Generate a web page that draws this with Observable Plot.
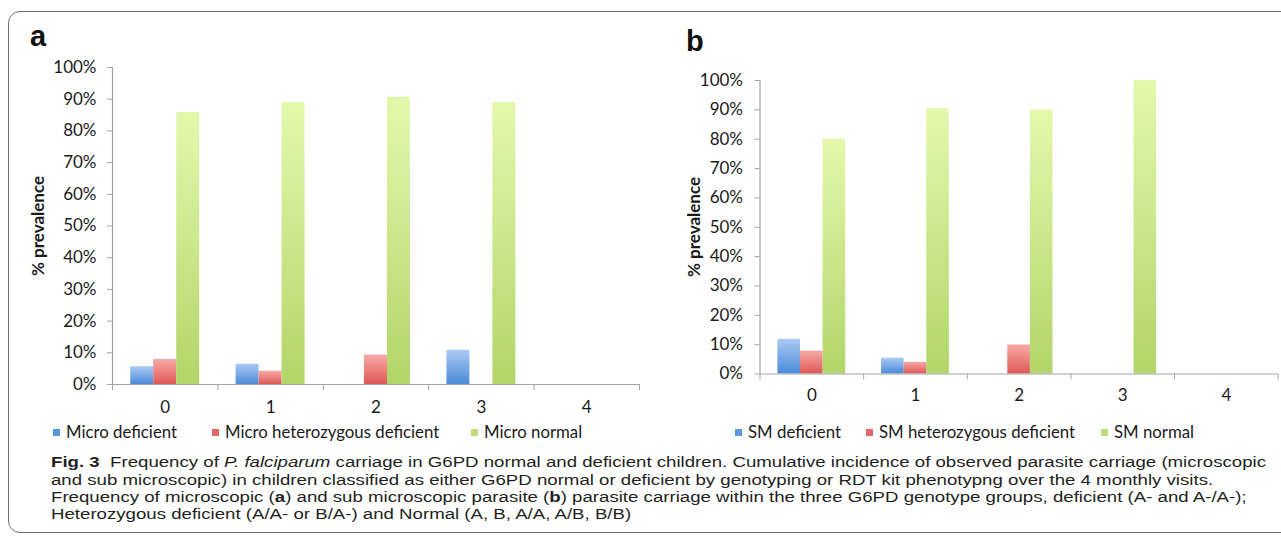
<!DOCTYPE html>
<html>
<head>
<meta charset="utf-8">
<script src="https://cdn.jsdelivr.net/npm/d3@7"></script>
<script src="https://cdn.jsdelivr.net/npm/@observablehq/plot@0.6"></script>
<style>
html, body { margin: 0; padding: 0; background: #fff; }
#page { position: relative; width: 1281px; height: 559px; overflow: hidden; background: #fff; font-family: Lato, "Open Sans", sans-serif; color: #1a1a1a; }
#frame { position: absolute; left: 8px; top: 11px; width: 1320px; height: 522px; border: 1.5px solid #6f6f6f; border-radius: 12px; box-sizing: border-box; }
.panel { position: absolute; top: 0; }
.plabel { position: absolute; font-family: "Liberation Sans", Arial, sans-serif; font-weight: bold; font-size: 29px; line-height: 1; color: #111; }
.ylab { position: absolute; font-weight: bold; font-size: 17px; transform: translate(-50%, -50%) rotate(-90deg); white-space: nowrap; color: #1a1a1a; }
.leg { position: absolute; font-size: 16.8px; white-space: nowrap; line-height: 18px; height: 18px; color: #1a1a1a; }
.leg .sw { position: absolute; left: 0; top: 5.5px; width: 7px; height: 7px; }
.leg .tx { position: absolute; left: 13px; top: 0; }
#caption { position: absolute; left: 51px; top: 453.4px; font-family: "Liberation Sans Narrow", "Liberation Sans", Arial, sans-serif; font-size: 15.4px; line-height: 17.2px; color: #231f20; transform-origin: 0 0; }
#caption .ln { white-space: nowrap; height: 17.2px; }
#caption .ln span { display: inline-block; }
</style>
</head>
<body>
<div id="page">
  <div id="frame"></div>
  <div class="plabel" style="left:30px; top:22px;">a</div>
  <div class="plabel" style="left:686px; top:27px;">b</div>
  <div id="panelA" class="panel" style="left:0px;"></div>
  <div id="panelB" class="panel" style="left:640px;"></div>
  <div class="ylab" style="left:37px; top:226px;">% prevalence</div>
  <div class="ylab" style="left:693px; top:227px;">% prevalence</div>
  <div id="legendA"></div>
  <div id="legendB"></div>
  <div id="caption">
    <div class="ln"><span id="cap1"><b>Fig. 3</b>&nbsp; Frequency of <i>P. falciparum</i> carriage in G6PD normal and deficient children. Cumulative incidence of observed parasite carriage (microscopic</span></div>
    <div class="ln"><span>and sub microscopic) in children classified as either G6PD normal or deficient by genotyping or RDT kit phenotypng over the 4 monthly visits.</span></div>
    <div class="ln"><span>Frequency of microscopic (<b>a</b>) and sub microscopic parasite (<b>b</b>) parasite carriage within the three G6PD genotype groups, deficient (A- and A-/A-);</span></div>
    <div class="ln"><span>Heterozygous deficient (A/A- or B/A-) and Normal (A, B, A/A, A/B, B/B)</span></div>
  </div>
</div>
<script>
// ---- data ----
const categories = ["0", "1", "2", "3", "4"];
const seriesA = ["Micro deficient", "Micro heterozygous deficient", "Micro normal"];
const seriesB = ["SM deficient", "SM heterozygous deficient", "SM normal"];
const microDeficient    = [5.6, 6.4, 0, 10.8, 0];
const microHetDeficient = [7.9, 4.2, 9.3, 0, 0];
const microNormal       = [85.8, 89.0, 90.6, 89.0, 0];
const smDeficient       = [11.8, 5.4, 0, 0, 0];
const smHetDeficient    = [7.8, 4.0, 9.9, 0, 0];
const smNormal          = [80.1, 90.4, 90.0, 100, 0];
const yTicks = [0, 10, 20, 30, 40, 50, 60, 70, 80, 90, 100];

// ---- styles ----
const gradients = [["#abcaf4", "#4a8ad9"], ["#f7aaa8", "#df5855"], ["#e4f8ac", "#b1d568"]];
const legendColors = ["#5b97df", "#e6676a", "#bcdc7c"];
const axisGray = "#a3a3a3";
const barFrac = 0.218;
const groupPad = (1 - 3 * barFrac) / 2;

function makePanel(id, seriesValues, layout) {
  const rows = seriesValues.map((arr, s) => arr.map((v, i) => ({cat: i, s, value: v})));
  const boundaries = categories.map((_, i) => i).concat([categories.length]);
  const centers = categories.map((_, i) => i + 0.5);
  const marks = rows.map((data, s) =>
    Plot.rectY(data, {
      x1: d => d.cat + groupPad + d.s * barFrac,
      x2: d => d.cat + groupPad + (d.s + 1) * barFrac,
      y1: 0,
      y2: "value",
      fill: `url(#${id}-g${s})`
    })
  );
  marks.push(
    Plot.ruleX([0], {y1: 0, y2: 100, stroke: axisGray, strokeWidth: 1.2}),
    Plot.ruleY([0], {stroke: axisGray, strokeWidth: 1.2}),
    Plot.axisY({ticks: yTicks, tickFormat: d => d + "%", tickSize: 5, tickPadding: layout.yPad, stroke: axisGray, fill: "#1a1a1a", label: null}),
    Plot.axisX({ticks: boundaries, tickFormat: () => "", tickSize: 6, stroke: axisGray, label: null}),
    Plot.axisX({ticks: centers, tickFormat: d => categories[Math.floor(d)], tickSize: 0, tickPadding: layout.xPad, fill: "#1a1a1a", label: null})
  );
  const svg = Plot.plot({
    width: layout.width,
    height: layout.height,
    marginLeft: layout.ml,
    marginRight: layout.mr,
    marginTop: layout.mt,
    marginBottom: layout.mb,
    x: {domain: [0, categories.length], axis: null},
    y: {domain: [0, 100], axis: null},
    style: {fontFamily: "Lato, 'Open Sans', sans-serif", fontSize: "17px", background: "transparent", color: "#1a1a1a", overflow: "visible"},
    marks
  });
  const defs = d3.select(svg).insert("defs", ":first-child");
  gradients.forEach(([top, bottom], s) => {
    const g = defs.append("linearGradient").attr("id", `${id}-g${s}`).attr("x1", 0).attr("y1", 0).attr("x2", 0).attr("y2", 1);
    g.append("stop").attr("offset", "0%").attr("stop-color", top);
    g.append("stop").attr("offset", "100%").attr("stop-color", bottom);
  });
  document.getElementById(id).appendChild(svg);
}

makePanel("panelA", [microDeficient, microHetDeficient, microNormal],
  {width: 640, height: 430, ml: 112, mr: 1, mt: 67, mb: 46, xPad: 16, yPad: 11});
makePanel("panelB", [smDeficient, smHetDeficient, smNormal],
  {width: 641, height: 430, ml: 119.5, mr: 3.3, mt: 80, mb: 56.5, xPad: 15, yPad: 12});

function makeLegend(containerId, names, lefts, top) {
  const c = document.getElementById(containerId);
  names.forEach((name, i) => {
    const item = document.createElement("div");
    item.className = "leg";
    item.style.left = lefts[i] + "px";
    item.style.top = top + "px";
    item.innerHTML = `<span class="sw" style="background:${legendColors[i]}"></span><span class="tx"></span>`;
    item.querySelector(".tx").textContent = name;
    c.appendChild(item);
  });
}
makeLegend("legendA", seriesA, [53, 212, 471], 423);
makeLegend("legendB", seriesB, [735, 866, 1101], 423);

function fitCaption() {
  const cap = document.getElementById("caption");
  cap.style.transform = "none";
  const w = document.getElementById("cap1").getBoundingClientRect().width;
  if (w > 0) cap.style.transform = `scaleX(${1215 / w})`;
}
fitCaption();
if (document.fonts && document.fonts.ready) document.fonts.ready.then(fitCaption);
</script>
</body>
</html>
